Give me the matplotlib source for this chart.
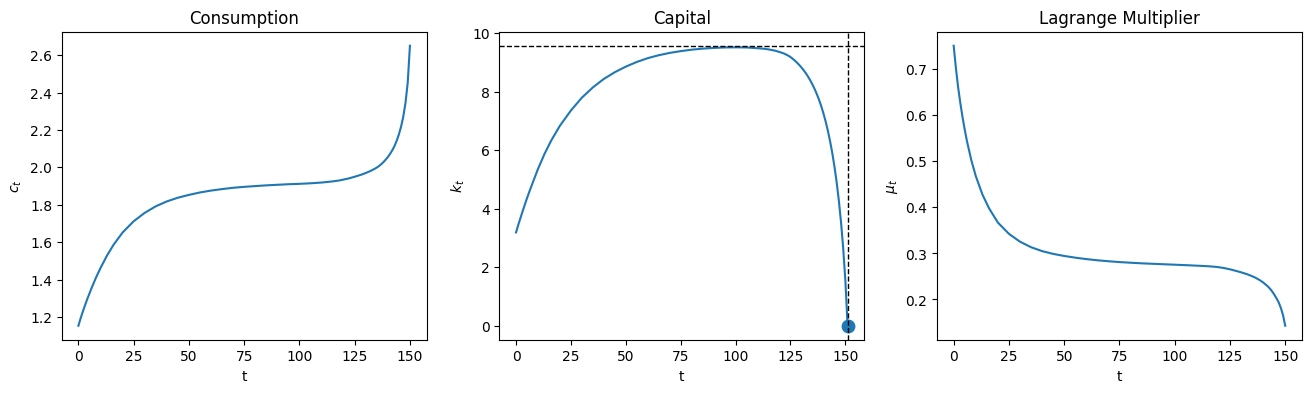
import numpy as np
import matplotlib
matplotlib.use('Agg')
import matplotlib.pyplot as plt

# values
t_c = [0, 1, 2, 3, 4, 5, 6, 8, 10, 13, 16, 20, 25, 30, 35, 40, 45, 50, 55, 60,
       65, 70, 75, 80, 85, 90, 95, 100, 105, 110, 115, 118, 120, 122, 125, 128,
       130, 131, 132, 133, 134, 135, 136, 137, 138, 139, 140, 141, 142, 143,
       144, 145, 146, 147, 148, 149, 150]
c_vals = [1.154, 1.193, 1.229, 1.263, 1.296, 1.326, 1.356, 1.412, 1.462, 1.530,
          1.588, 1.652, 1.712, 1.757, 1.792, 1.818, 1.838, 1.853, 1.866, 1.876,
          1.884, 1.891, 1.896, 1.900, 1.904, 1.907, 1.910, 1.912, 1.915, 1.919,
          1.925, 1.930, 1.935, 1.940, 1.950, 1.961, 1.970, 1.975, 1.980, 1.986,
          1.992, 1.999, 2.007, 2.017, 2.028, 2.041, 2.055, 2.072, 2.091, 2.114,
          2.142, 2.176, 2.218, 2.272, 2.345, 2.453, 2.650]

t_k = [0, 1, 2, 3, 4, 5, 6, 8, 10, 13, 16, 20, 25, 30, 35, 40, 45, 50, 55, 60,
       65, 70, 75, 80, 85, 90, 95, 100, 105, 110, 113, 115, 118, 120, 122, 124,
       125, 126, 127, 128, 129, 130, 131, 132, 133, 134, 135, 136, 137, 138,
       139, 140, 141, 142, 143, 144, 145, 146, 147, 148, 149, 150, 151]
k_vals = [3.19, 3.44, 3.68, 3.91, 4.14, 4.36, 4.57, 4.97, 5.36, 5.88, 6.33,
          6.84, 7.36, 7.80, 8.15, 8.44, 8.67, 8.86, 9.02, 9.15, 9.25, 9.33,
          9.39, 9.44, 9.475, 9.50, 9.515, 9.52, 9.515, 9.49, 9.47, 9.45, 9.405,
          9.36, 9.31, 9.235, 9.187, 9.129, 9.065, 8.994, 8.916, 8.83, 8.736,
          8.633, 8.518, 8.391, 8.25, 8.094, 7.92, 7.726, 7.508, 7.263, 6.987,
          6.676, 6.322, 5.918, 5.454, 4.92, 4.295, 3.553, 2.655, 1.53, 0.0]

t_mu = t_c
mu_vals = [0.751, 0.703, 0.661, 0.627, 0.596, 0.569, 0.544, 0.502, 0.468,
           0.428, 0.398, 0.367, 0.3425, 0.3255, 0.3135, 0.305, 0.299, 0.2945,
           0.2908, 0.2877, 0.2851, 0.283, 0.2812, 0.2798, 0.2785, 0.2775,
           0.2765, 0.2755, 0.2745, 0.2734, 0.2722, 0.2711, 0.2700, 0.2685,
           0.2655, 0.2617, 0.259, 0.2575, 0.256, 0.2545, 0.2525, 0.2505,
           0.2485, 0.246, 0.2433, 0.2403, 0.237, 0.233, 0.229, 0.224, 0.218,
           0.211, 0.203, 0.194, 0.182, 0.166, 0.143]

k_ss = 9.575
T = 150

ylabels = ['$c_t$', '$k_t$', '$\\mu_t$']
titles = ['Consumption', 'Capital', 'Lagrange Multiplier']

fig, axs = plt.subplots(1, 3, figsize=(16, 4))
paths = [(t_c, c_vals), (t_k, k_vals), (t_mu, mu_vals)]
for i in range(3):
    axs[i].plot(paths[i][0], paths[i][1])
    axs[i].set(xlabel='t', ylabel=ylabels[i], title=titles[i])

# steady state and terminal point of capital
axs[1].axhline(k_ss, c='k', ls='--', lw=1)
axs[1].axvline(T + 1, c='k', ls='--', lw=1)
axs[1].scatter(T + 1, k_vals[-1], s=80)

fig.savefig('out.png', dpi=100, bbox_inches='tight')
